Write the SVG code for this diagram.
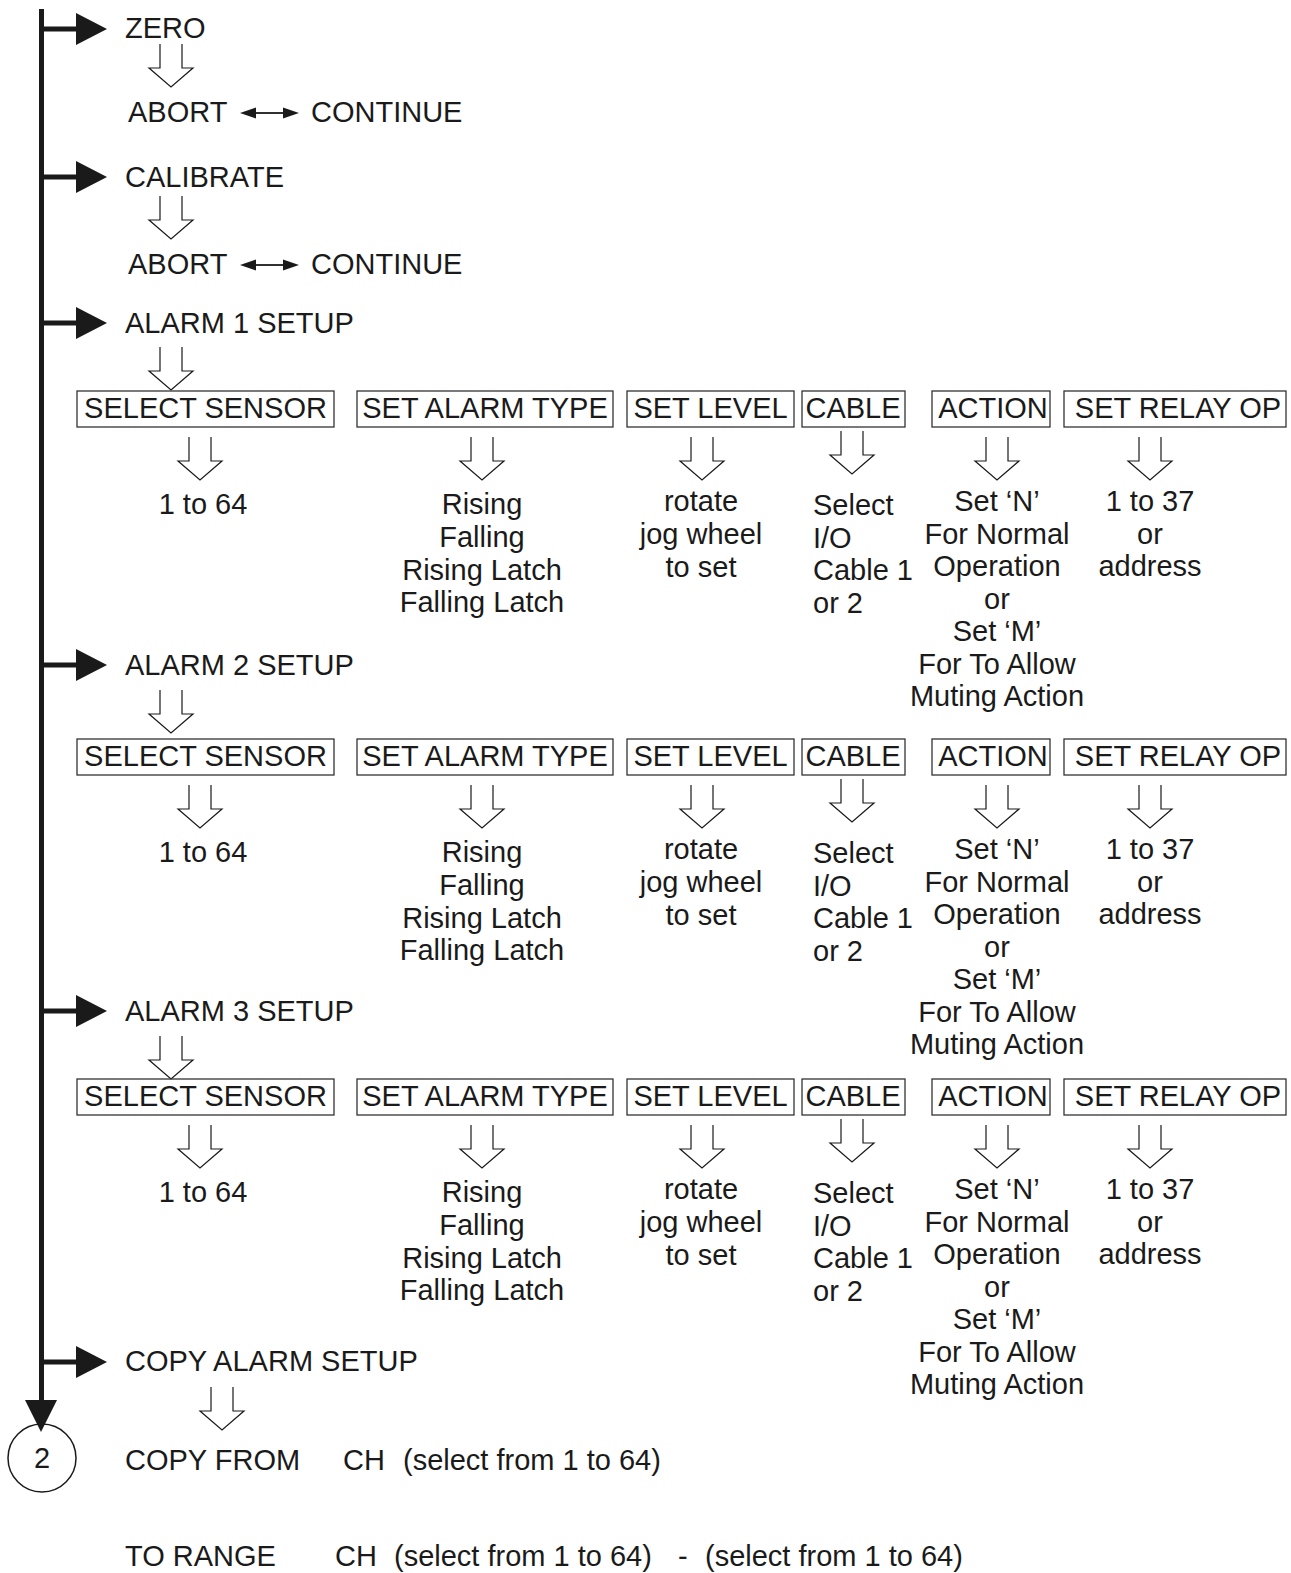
<svg xmlns="http://www.w3.org/2000/svg" xmlns:xlink="http://www.w3.org/1999/xlink" width="1291" height="1573" viewBox="0 0 1291 1573">
<style>
.t{font-family:"Liberation Sans",Arial,sans-serif;font-size:29px;fill:#1a1a1a}
.c{text-anchor:middle}
.box{fill:none;stroke:#333;stroke-width:1.3}
.main{fill:#1a1a1a}
.dl{stroke:#1a1a1a;stroke-width:1.8;fill:none}
</style>
<defs>
<path id="ha" d="M-11,-43 V-19 H-22 L0,0 L22,-19 H11 V-43" fill="#fff" stroke="#1a1a1a" stroke-width="1.2"/>
<g id="br"><rect x="44" y="-2.5" width="33" height="5" fill="#1a1a1a"/><polygon points="76,-16 107,0 76,16" fill="#1a1a1a"/></g>
<g id="dbl"><line x1="254" y1="0" x2="285" y2="0" class="dl"/><polygon points="240,0 256,-5.5 256,5.5" fill="#1a1a1a"/><polygon points="299,0 283,-5.5 283,5.5" fill="#1a1a1a"/></g>
</defs>
<rect width="1291" height="1573" fill="#fff"/>

<g id="connectors">
  <rect x="39" y="9" width="5" height="1393" class="main"/>
  <polygon points="25,1400 57,1400 41,1432" class="main"/>
  <use xlink:href="#br" href="#br" y="29"/>
  <use xlink:href="#br" href="#br" y="177"/>
  <use xlink:href="#br" href="#br" y="323"/>
  <use xlink:href="#br" href="#br" y="665"/>
  <use xlink:href="#br" href="#br" y="1011"/>
  <use xlink:href="#br" href="#br" y="1362"/>
  <use xlink:href="#ha" href="#ha" x="171" y="87"/>
  <use xlink:href="#ha" href="#ha" x="171" y="239"/>
  <use xlink:href="#ha" href="#ha" x="171" y="390"/>
  <use xlink:href="#ha" href="#ha" x="171" y="733"/>
  <use xlink:href="#ha" href="#ha" x="171" y="1079"/>
  <use xlink:href="#ha" href="#ha" x="222" y="1430"/>
  <use xlink:href="#dbl" href="#dbl" y="113"/>
  <use xlink:href="#dbl" href="#dbl" y="265"/>
  <g id="row-arrows-1">
    <use xlink:href="#ha" href="#ha" x="200" y="480"/>
    <use xlink:href="#ha" href="#ha" x="482" y="480"/>
    <use xlink:href="#ha" href="#ha" x="702" y="480"/>
    <use xlink:href="#ha" href="#ha" x="852" y="474"/>
    <use xlink:href="#ha" href="#ha" x="997" y="480"/>
    <use xlink:href="#ha" href="#ha" x="1150" y="480"/>
  </g>
  <use xlink:href="#row-arrows-1" href="#row-arrows-1" y="348"/>
  <use xlink:href="#row-arrows-1" href="#row-arrows-1" y="688"/>
</g>

<g id="zero"><text class="t" x="125" y="38">ZERO</text></g>
<g id="abort1"><text class="t" x="128" y="122">ABORT</text></g>
<g id="continue1"><text class="t" x="311" y="122">CONTINUE</text></g>
<g id="calibrate"><text class="t" x="125" y="187">CALIBRATE</text></g>
<g id="abort2"><text class="t" x="128" y="274">ABORT</text></g>
<g id="continue2"><text class="t" x="311" y="274">CONTINUE</text></g>
<g id="alarm1"><text class="t" x="125" y="333">ALARM 1 SETUP</text></g>
<g id="alarm2"><text class="t" x="125" y="675">ALARM 2 SETUP</text></g>
<g id="alarm3"><text class="t" x="125" y="1021">ALARM 3 SETUP</text></g>

<g id="row1">
  <g id="select-sensor-1"><rect class="box" x="77" y="391" width="257" height="36"/><text class="t c" x="205.5" y="418">SELECT SENSOR</text></g>
  <g id="set-alarm-type-1"><rect class="box" x="357" y="391" width="256" height="36"/><text class="t c" x="485" y="418">SET ALARM TYPE</text></g>
  <g id="set-level-1"><rect class="box" x="627" y="391" width="167" height="36"/><text class="t c" x="710.5" y="418">SET LEVEL</text></g>
  <g id="cable-1"><rect class="box" x="802" y="391" width="103" height="36"/><text class="t c" x="853" y="418">CABLE</text></g>
  <g id="action-1"><rect class="box" x="932" y="391" width="118" height="36"/><text class="t c" x="993" y="418">ACTION</text></g>
  <g id="set-relay-op-1"><rect class="box" x="1064" y="391" width="222" height="36"/><text class="t c" x="1178" y="418">SET RELAY OP</text></g>
  <g id="sensor-range-1"><text class="t c" x="203" y="514">1 to 64</text></g>
  <g id="alarm-types-1"><text class="t c" x="482"><tspan x="482" y="514">Rising</tspan><tspan x="482" y="547">Falling</tspan><tspan x="482" y="580">Rising Latch</tspan><tspan x="482" y="612">Falling Latch</tspan></text></g>
  <g id="level-1"><text class="t c" x="701"><tspan x="701" y="511">rotate</tspan><tspan x="701" y="544">jog wheel</tspan><tspan x="701" y="577">to set</tspan></text></g>
  <g id="cable-sel-1"><text class="t" x="813"><tspan x="813" y="515">Select</tspan><tspan x="813" y="548">I/O</tspan><tspan x="813" y="580">Cable 1</tspan><tspan x="813" y="613">or 2</tspan></text></g>
  <g id="action-sel-1"><text class="t c" x="997"><tspan x="997" y="511">Set ‘N’</tspan><tspan x="997" y="543.5">For Normal</tspan><tspan x="997" y="576">Operation</tspan><tspan x="997" y="608.5">or</tspan><tspan x="997" y="641">Set ‘M’</tspan><tspan x="997" y="673.5">For To Allow</tspan><tspan x="997" y="706">Muting Action</tspan></text></g>
  <g id="relay-sel-1"><text class="t c" x="1150"><tspan x="1150" y="511">1 to 37</tspan><tspan x="1150" y="543.5">or</tspan><tspan x="1150" y="576">address</tspan></text></g>
</g>

<g id="row2" transform="translate(0,348)">
  <g id="select-sensor-2"><rect class="box" x="77" y="391" width="257" height="36"/><text class="t c" x="205.5" y="418">SELECT SENSOR</text></g>
  <g id="set-alarm-type-2"><rect class="box" x="357" y="391" width="256" height="36"/><text class="t c" x="485" y="418">SET ALARM TYPE</text></g>
  <g id="set-level-2"><rect class="box" x="627" y="391" width="167" height="36"/><text class="t c" x="710.5" y="418">SET LEVEL</text></g>
  <g id="cable-2"><rect class="box" x="802" y="391" width="103" height="36"/><text class="t c" x="853" y="418">CABLE</text></g>
  <g id="action-2"><rect class="box" x="932" y="391" width="118" height="36"/><text class="t c" x="993" y="418">ACTION</text></g>
  <g id="set-relay-op-2"><rect class="box" x="1064" y="391" width="222" height="36"/><text class="t c" x="1178" y="418">SET RELAY OP</text></g>
  <g id="sensor-range-2"><text class="t c" x="203" y="514">1 to 64</text></g>
  <g id="alarm-types-2"><text class="t c" x="482"><tspan x="482" y="514">Rising</tspan><tspan x="482" y="547">Falling</tspan><tspan x="482" y="580">Rising Latch</tspan><tspan x="482" y="612">Falling Latch</tspan></text></g>
  <g id="level-2"><text class="t c" x="701"><tspan x="701" y="511">rotate</tspan><tspan x="701" y="544">jog wheel</tspan><tspan x="701" y="577">to set</tspan></text></g>
  <g id="cable-sel-2"><text class="t" x="813"><tspan x="813" y="515">Select</tspan><tspan x="813" y="548">I/O</tspan><tspan x="813" y="580">Cable 1</tspan><tspan x="813" y="613">or 2</tspan></text></g>
  <g id="action-sel-2"><text class="t c" x="997"><tspan x="997" y="511">Set ‘N’</tspan><tspan x="997" y="543.5">For Normal</tspan><tspan x="997" y="576">Operation</tspan><tspan x="997" y="608.5">or</tspan><tspan x="997" y="641">Set ‘M’</tspan><tspan x="997" y="673.5">For To Allow</tspan><tspan x="997" y="706">Muting Action</tspan></text></g>
  <g id="relay-sel-2"><text class="t c" x="1150"><tspan x="1150" y="511">1 to 37</tspan><tspan x="1150" y="543.5">or</tspan><tspan x="1150" y="576">address</tspan></text></g>
</g>

<g id="row3" transform="translate(0,688)">
  <g id="select-sensor-3"><rect class="box" x="77" y="391" width="257" height="36"/><text class="t c" x="205.5" y="418">SELECT SENSOR</text></g>
  <g id="set-alarm-type-3"><rect class="box" x="357" y="391" width="256" height="36"/><text class="t c" x="485" y="418">SET ALARM TYPE</text></g>
  <g id="set-level-3"><rect class="box" x="627" y="391" width="167" height="36"/><text class="t c" x="710.5" y="418">SET LEVEL</text></g>
  <g id="cable-3"><rect class="box" x="802" y="391" width="103" height="36"/><text class="t c" x="853" y="418">CABLE</text></g>
  <g id="action-3"><rect class="box" x="932" y="391" width="118" height="36"/><text class="t c" x="993" y="418">ACTION</text></g>
  <g id="set-relay-op-3"><rect class="box" x="1064" y="391" width="222" height="36"/><text class="t c" x="1178" y="418">SET RELAY OP</text></g>
  <g id="sensor-range-3"><text class="t c" x="203" y="514">1 to 64</text></g>
  <g id="alarm-types-3"><text class="t c" x="482"><tspan x="482" y="514">Rising</tspan><tspan x="482" y="547">Falling</tspan><tspan x="482" y="580">Rising Latch</tspan><tspan x="482" y="612">Falling Latch</tspan></text></g>
  <g id="level-3"><text class="t c" x="701"><tspan x="701" y="511">rotate</tspan><tspan x="701" y="544">jog wheel</tspan><tspan x="701" y="577">to set</tspan></text></g>
  <g id="cable-sel-3"><text class="t" x="813"><tspan x="813" y="515">Select</tspan><tspan x="813" y="548">I/O</tspan><tspan x="813" y="580">Cable 1</tspan><tspan x="813" y="613">or 2</tspan></text></g>
  <g id="action-sel-3"><text class="t c" x="997"><tspan x="997" y="511">Set ‘N’</tspan><tspan x="997" y="543.5">For Normal</tspan><tspan x="997" y="576">Operation</tspan><tspan x="997" y="608.5">or</tspan><tspan x="997" y="641">Set ‘M’</tspan><tspan x="997" y="673.5">For To Allow</tspan><tspan x="997" y="706">Muting Action</tspan></text></g>
  <g id="relay-sel-3"><text class="t c" x="1150"><tspan x="1150" y="511">1 to 37</tspan><tspan x="1150" y="543.5">or</tspan><tspan x="1150" y="576">address</tspan></text></g>
</g>

<g id="copy-alarm-setup"><text class="t" x="125" y="1371">COPY ALARM SETUP</text></g>
<g id="page-2"><circle cx="42" cy="1458" r="34" fill="none" stroke="#1a1a1a" stroke-width="1.5"/><text class="t c" x="42" y="1468">2</text></g>
<g id="copy-from">
  <text class="t" x="125" y="1470">COPY FROM</text>
  <text class="t" x="343" y="1470">CH</text>
  <text class="t" x="403" y="1470">(select from 1 to 64)</text>
</g>
<g id="to-range">
  <text class="t" x="125" y="1566">TO RANGE</text>
  <text class="t" x="335" y="1566">CH</text>
  <text class="t" x="394" y="1566">(select from 1 to 64)</text>
  <text class="t" x="678" y="1566">-</text>
  <text class="t" x="705" y="1566">(select from 1 to 64)</text>
</g>
</svg>
